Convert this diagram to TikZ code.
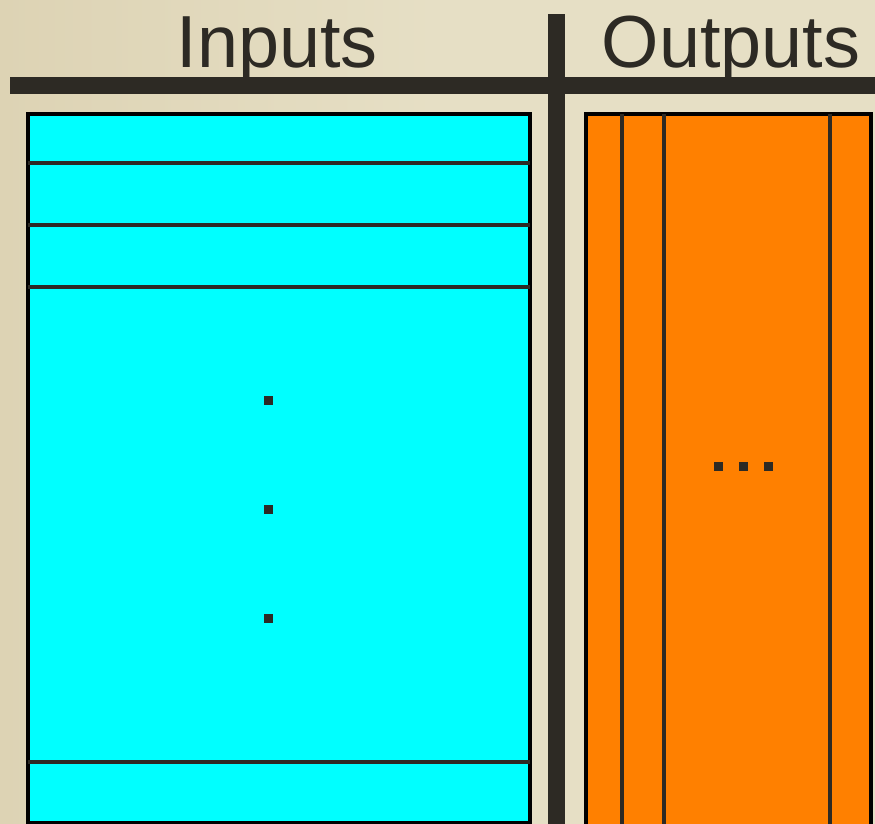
\documentclass[tikz,border=0pt]{standalone}
\usepackage{fontspec}
\setmainfont{Liberation Sans}
\definecolor{paper}{HTML}{E6DFC5}
\definecolor{paperdark}{HTML}{DDD3B4}
\definecolor{ink}{HTML}{2D2A24}
\definecolor{incol}{HTML}{00FFFF}
\definecolor{outcol}{HTML}{FF8000}
\begin{document}
\begin{tikzpicture}[
  x=0.02cm, y=-0.02cm,
  head/.style={anchor=base, text=ink, inner sep=0pt,
               font=\fontsize{42}{50}\selectfont},
  bar/.style={fill=ink, draw=none},
  panel/.style={draw=black, line width=2.2pt},
  rule/.style={ink, line width=2.2pt},
  dot/.style={fill=ink, draw=none, minimum size=0.18cm, inner sep=0pt}
]
  % paper background
  \shade[left color=paperdark, right color=paper, middle color=paper]
    (0,0) rectangle (875,824);
  \useasboundingbox (0,0) rectangle (875,824);

  % the T-chart
  \fill[bar] (10,77) rectangle (875,94);
  \fill[bar] (548,14) rectangle (565,824);
  \node[head] (inp) at (277,68) {Inputs};
  \node[head] (outp) at (731,68) {Outputs};

  % inputs: stacked rows
  \filldraw[panel, fill=incol] (28,114) rectangle (530,823);
  \foreach \y in {163,225,287,762}
    \draw[rule] (28,\y) -- (530,\y);
  \foreach \y/\n in {400/a,509/b,618/c}
    \node[dot] (vd\n) at (268,\y) {};

  % outputs: side-by-side columns
  \filldraw[panel, fill=outcol] (586,114) rectangle (871,826);
  \foreach \x in {622,664,830}
    \draw[rule] (\x,114) -- (\x,824);
  \foreach \x/\n in {718/a,743/b,768/c}
    \node[dot] (hd\n) at (\x,466) {};
\end{tikzpicture}
\end{document}
